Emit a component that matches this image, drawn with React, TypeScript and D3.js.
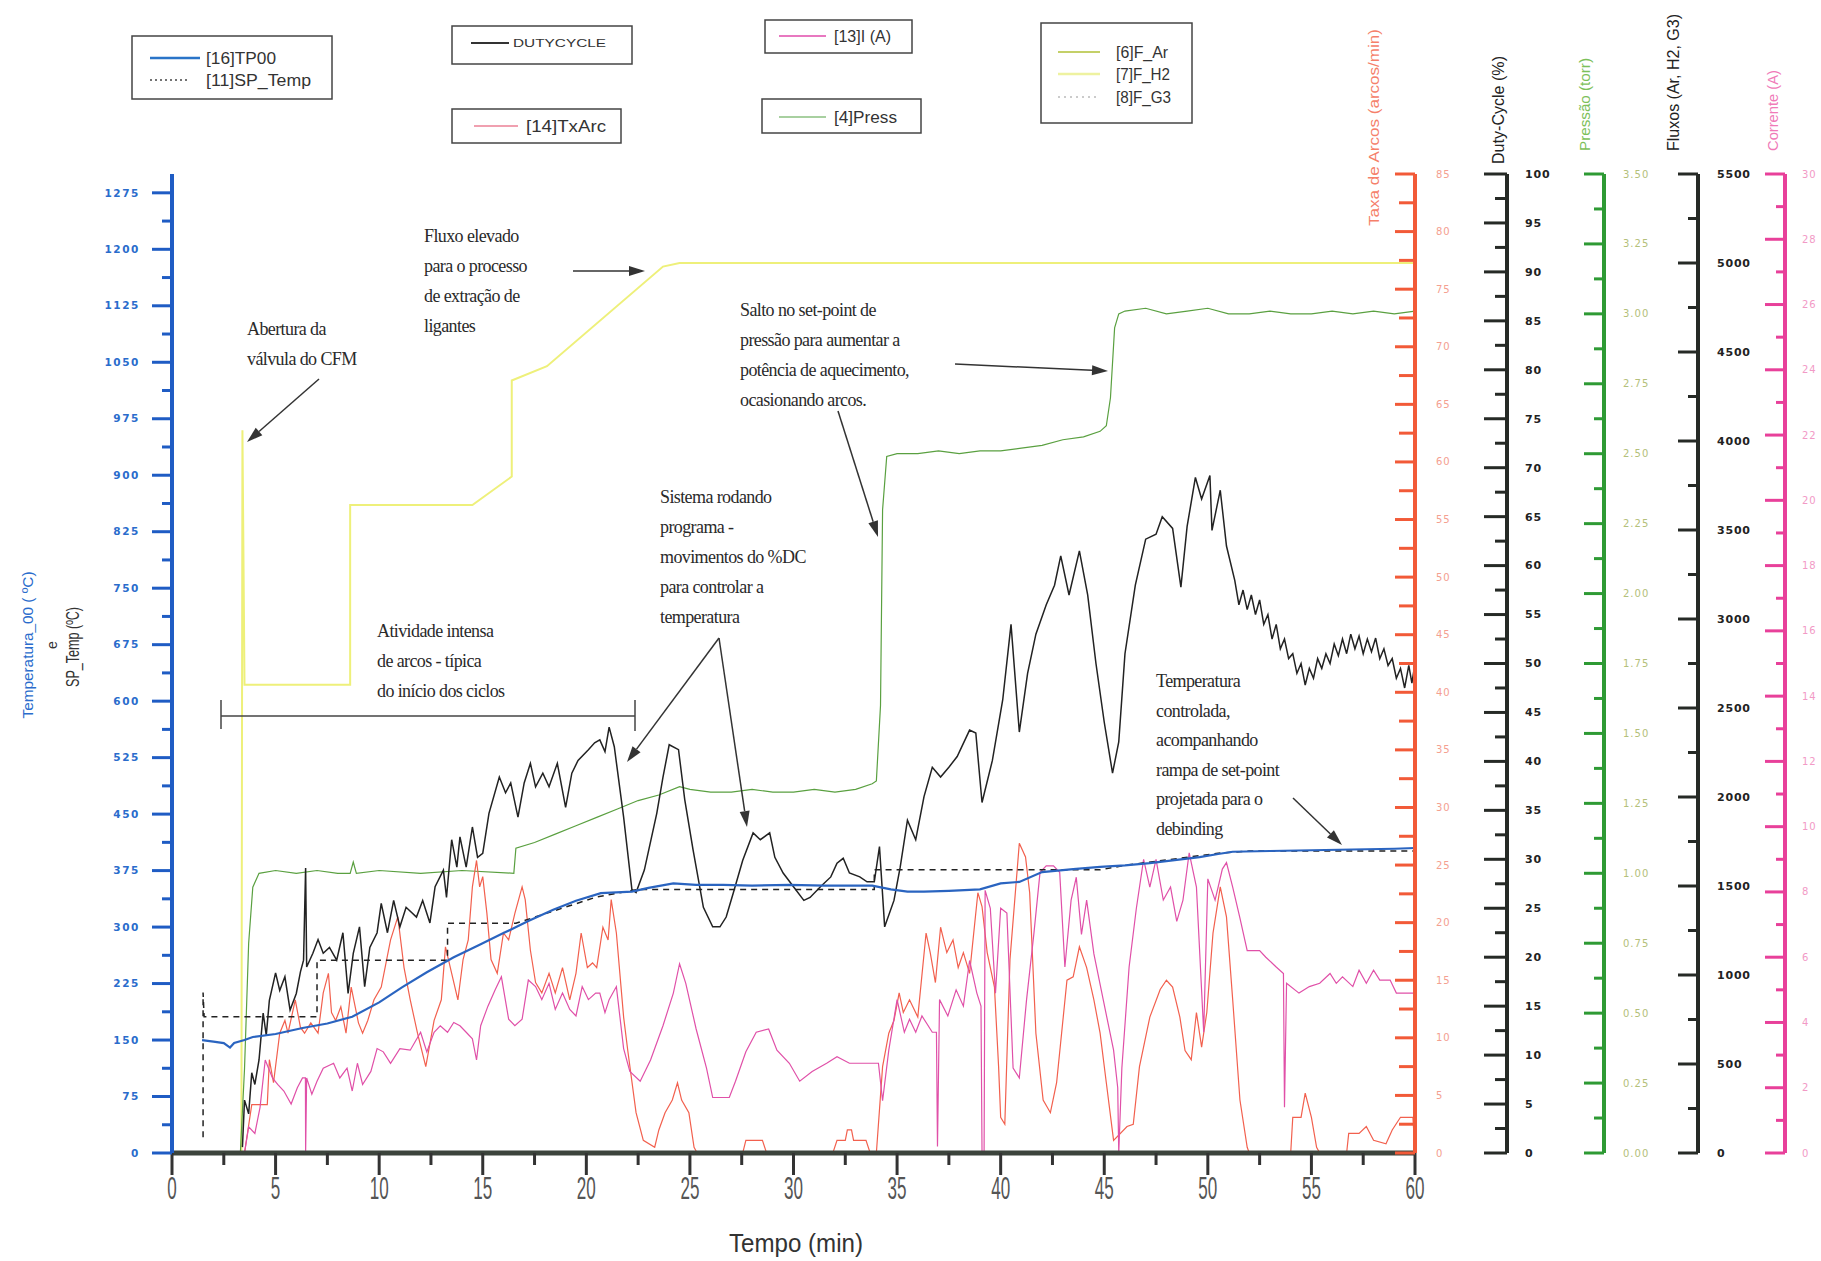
import React from "react";
import * as d3 from "d3";

// ---------- DATA (time in minutes, value in the unit of its own axis) ----------
const tp00: [number, number][] = [
  [1.45,150],[2.0,148],[2.5,146],[2.8,140],[3.0,146],[3.5,150],[3.9,154],[5,158],[6.3,166],[7.5,172],[8.7,181],[10,200],[11.1,220],[12.3,240],[13.6,260],[14.8,276],[16,292],[17.2,308],[18.4,323],[19.5,335],[20.7,345],[22.2,347],[23,352],[24.2,358],[25.3,356],[26.6,356],[28,355],[29.8,356],[31.5,355],[33.8,355],[34.7,350],[35.5,347],[36.3,347],[37.5,348],[39,350],[40,358],[40.9,360],[42,373],[43.5,377],[44.8,380],[46,382],[47.2,385],[48.4,389],[49.6,393],[50.5,397],[51.2,400],[53,401],[55,402],[57,403],[59,404],[60,405]
];
const spTemp: [number, number][] = [
  [1.5,21],[1.5,213],[1.55,181],[7.0,181],[7.0,256],[13.3,256],[13.3,305],[16.6,305],[20.5,340],[22.5,350],[33.9,350],[33.9,376],[44.8,376],[46,382],[50.5,398],[52,401],[60,401]
];
const dutyCycle: [number, number][] = [
  [3.4,0.6],[3.5,5.4],[3.7,4],[3.85,8.2],[4.0,7],[4.2,9.5],[4.4,14.3],[4.55,12],[4.7,15.6],[5.0,18.4],[5.2,16.6],[5.45,18],[5.7,14.6],[6.0,16.3],[6.2,18.5],[6.35,19.7],[6.45,29.1],[6.5,19],[6.8,20.4],[7.05,21.8],[7.3,20.4],[7.6,21],[7.95,19.7],[8.25,22.5],[8.5,16.3],[8.75,20.4],[9.05,23.1],[9.3,17],[9.55,21],[9.9,22.5],[10.1,25.5],[10.4,22.5],[10.7,25.8],[11.0,23.1],[11.3,25.1],[11.8,24.1],[12.1,25.8],[12.45,23.5],[12.7,27.2],[13.1,28.9],[13.25,26.1],[13.5,32],[13.75,29.2],[13.9,32.3],[14.2,29.2],[14.5,33.3],[14.75,30.2],[15.0,30.6],[15.3,34.7],[15.8,38.4],[16.1,36.8],[16.35,37.8],[16.7,34.3],[17.0,37.8],[17.3,39.8],[17.55,37.4],[17.9,38.8],[18.2,37.4],[18.6,39.8],[19.0,35.3],[19.3,38.8],[19.6,40.1],[20.1,41.2],[20.4,41.9],[20.65,42.2],[20.9,41],[21.1,43.5],[21.35,41.5],[21.8,34.3],[22.2,26.9],[22.4,26.6],[22.8,28.9],[23.4,34.7],[23.7,38.4],[24.0,41.7],[24.45,41.2],[24.75,36.1],[25.15,31],[25.65,25.1],[26.1,23.1],[26.45,23.1],[26.75,24.1],[27.1,26.6],[27.55,29.9],[28.05,32.7],[28.4,32],[28.85,32.7],[29.1,30.2],[29.5,28.6],[30.0,27.2],[30.5,25.8],[30.8,26.1],[31.3,27.2],[31.8,28.2],[32.1,29.6],[32.4,30.1],[32.7,28.6],[33.2,28.2],[33.55,27.7],[33.9,27.7],[34.15,31.3],[34.4,23.1],[34.85,25.8],[35.15,29.2],[35.5,34],[35.9,32],[36.3,36.4],[36.7,39.4],[37.1,38.4],[37.5,39.4],[37.9,40.5],[38.5,43.2],[38.8,42.9],[39.1,35.8],[39.6,40.1],[40.1,46.3],[40.5,54],[40.9,43],[41.3,49],[41.7,53],[42.2,56],[42.6,58],[42.9,61],[43.3,57],[43.8,61.5],[44.2,57],[44.6,50],[45.0,44],[45.4,38.8],[45.7,42],[46.0,51],[46.5,58],[47.0,62.7],[47.5,63.2],[47.8,65],[48.3,63.8],[48.7,57.8],[49.0,64],[49.4,69],[49.7,66.8],[50.1,69.2],[50.2,63.6],[50.6,67.7],[50.9,62],[51.3,58.5],[51.5,56],[51.7,57.5],[51.9,55.5],[52.1,57],[52.3,55],[52.5,56.5],[52.7,54],[52.9,55],[53.1,52.5],[53.3,54],[53.5,51.5],[53.7,52.5],[53.9,50.5],[54.1,51],[54.3,49],[54.5,50],[54.7,47.8],[54.9,49.5],[55.1,48.5],[55.3,50.5],[55.5,49.5],[55.7,51],[55.9,50],[56.1,52],[56.3,50.8],[56.5,52.5],[56.7,51],[56.9,53],[57.1,51.5],[57.3,52.8],[57.5,51],[57.7,52.5],[57.9,51.2],[58.1,52.6],[58.3,50.5],[58.5,51.5],[58.7,49.8],[58.9,50.5],[59.1,48.5],[59.3,49.5],[59.5,47.5],[59.7,49.8],[59.85,48],[60,50]
];
const txArc: [number, number][] = [
  [3.3,0],[3.5,0],[3.85,4.2],[4.6,4.2],[4.7,8.1],[4.9,6.1],[5.2,10.4],[5.45,11.5],[5.6,10.4],[5.95,13.3],[6.2,10.9],[6.4,10.4],[6.7,11.3],[7.05,10.4],[7.3,13.9],[7.55,15.6],[7.7,12.2],[7.9,11.5],[8.15,12.7],[8.4,10.4],[8.65,14.4],[9.0,11.3],[9.2,10.4],[9.45,11.5],[9.75,13.3],[10.1,14.4],[10.55,18.5],[10.9,20.5],[11.2,16.1],[11.5,13.3],[11.85,10.4],[12.25,7.5],[12.65,11.5],[13.0,13.3],[13.2,17.9],[13.5,15.6],[13.8,13.3],[14.05,16.8],[14.3,18.5],[14.5,23.1],[14.7,25.4],[14.85,23.1],[15.0,24],[15.2,20.8],[15.4,16.8],[15.7,15.6],[16.0,19.1],[16.25,18.5],[16.55,20.8],[16.9,23.1],[17.05,22],[17.3,17.6],[17.55,14.8],[17.85,13.9],[18.2,15.6],[18.5,13.9],[18.85,16.1],[19.2,13.3],[19.5,15.6],[19.75,19.1],[20.05,16.1],[20.3,16.5],[20.5,16.1],[20.8,19.6],[21.05,18.5],[21.2,22],[21.45,19.1],[21.8,11.8],[22.0,8.9],[22.4,3.5],[22.75,1.1],[23.3,0.5],[23.5,2.0],[23.8,3.5],[24.15,4.6],[24.4,6.1],[24.6,4.6],[24.95,3.5],[25.2,0.5],[25.35,0],[27.55,0],[27.7,1.1],[28.5,1.1],[28.7,0],[31.9,0],[32.1,1.1],[32.5,1.1],[32.6,2.0],[32.8,2.0],[32.9,1.1],[33.5,1.1],[33.7,0],[34.0,0],[34.3,7.5],[34.6,10.4],[34.85,11.5],[35.1,13.9],[35.3,12.2],[35.6,13.3],[36.0,11.8],[36.4,19.1],[36.6,17.4],[36.85,14.8],[37.1,19.6],[37.4,17.4],[37.7,18.5],[37.95,16.1],[38.2,17.4],[38.5,15.6],[38.9,22.6],[39.1,21.4],[39.35,17.4],[39.7,14.4],[39.9,7.5],[40.0,3.1],[40.2,2.5],[40.45,16.8],[40.9,26.9],[41.2,25.7],[41.4,22.6],[41.7,10.4],[42.05,4.6],[42.4,3.5],[42.7,6.1],[43.2,15],[43.5,15.3],[43.8,17.9],[44.15,16.1],[44.5,13.3],[44.8,10.4],[45.1,6.1],[45.45,1.1],[46.1,2.3],[46.4,2.5],[46.7,7.5],[47.2,11.8],[47.7,14.2],[48.0,15],[48.3,14.4],[48.65,11.8],[48.9,8.9],[49.2,8.1],[49.45,12.2],[49.7,9.2],[49.95,12.2],[50.25,19.1],[50.6,23.1],[50.9,20.5],[51.2,13.3],[51.55,4.6],[51.9,0.5],[52.0,0],[54.0,0],[54.1,3.1],[54.5,3.1],[54.7,5.2],[55.0,3.1],[55.25,0.5],[55.4,0],[56.7,0],[56.8,1.7],[57.3,1.7],[57.65,2.3],[58.0,1.1],[58.6,0.8],[58.9,2.0],[59.3,3.1],[59.9,3.1],[60,0]
];
const corrente: [number, number][] = [
  [3.3,0],[3.5,0],[3.7,0.8],[4.0,0.6],[4.25,1.4],[4.5,2.85],[4.85,2.3],[5.1,2.1],[5.4,1.9],[5.75,1.5],[6.05,2.0],[6.3,2.3],[6.44,2.3],[6.45,0],[6.5,2.3],[6.75,1.8],[7.0,2.2],[7.3,2.6],[7.8,2.75],[8.1,2.3],[8.45,2.6],[8.7,1.9],[8.95,2.75],[9.2,2.1],[9.6,2.5],[9.9,3.2],[10.2,3.1],[10.55,2.75],[11.0,3.2],[11.5,3.15],[12.0,3.7],[12.3,3.1],[12.65,3.7],[12.95,3.9],[13.3,3.7],[13.6,4.0],[13.9,3.9],[14.2,3.7],[14.5,3.5],[14.7,2.85],[14.9,3.9],[15.25,4.5],[15.6,5.0],[15.9,5.4],[16.25,4.1],[16.55,3.9],[16.9,4.1],[17.2,5.3],[17.55,5.1],[17.85,4.7],[18.2,5.2],[18.5,4.4],[18.85,4.9],[19.2,4.4],[19.5,4.2],[19.8,5.1],[20.1,4.7],[20.45,4.9],[20.65,4.9],[20.9,4.3],[21.1,4.7],[21.45,5.1],[21.8,3.2],[22.1,2.5],[22.6,2.2],[23.1,2.85],[23.7,3.9],[24.2,4.9],[24.5,5.8],[24.8,5.2],[25.3,3.8],[25.8,2.6],[26.1,1.7],[26.9,1.7],[27.2,2.2],[27.7,3.1],[28.2,3.7],[28.8,3.8],[29.2,3.15],[29.8,2.75],[30.3,2.2],[30.9,2.5],[31.6,2.75],[32.1,2.95],[32.7,2.75],[34.1,2.75],[34.3,1.6],[34.6,3.15],[35.0,4.7],[35.35,3.7],[35.6,4.1],[35.9,3.7],[36.2,4.2],[36.7,3.7],[36.9,3.7],[36.95,0.2],[37.05,4.7],[37.45,4.2],[37.85,5.0],[38.2,4.5],[38.5,5.9],[38.85,4.9],[39.05,4.5],[39.1,0],[39.2,0],[39.25,8.05],[39.5,7.5],[39.75,4.9],[40.0,7.5],[40.3,7.35],[40.6,2.6],[40.9,2.3],[41.25,4.7],[41.6,6.7],[41.9,8.6],[42.2,8.8],[42.55,8.8],[42.85,8.6],[43.1,5.7],[43.4,7.75],[43.65,8.45],[43.9,6.7],[44.15,7.75],[44.5,6.1],[44.95,4.7],[45.45,3.15],[45.65,2],[45.7,0],[45.85,2.6],[46.2,5.7],[46.55,7.5],[46.9,9.0],[47.2,8.15],[47.5,9.0],[47.85,7.75],[48.2,8.15],[48.5,7.1],[48.8,7.75],[49.1,9.2],[49.45,8.15],[49.8,3.7],[50.0,8.4],[50.35,7.75],[50.7,8.7],[50.9,8.9],[51.2,8.15],[51.55,7.2],[51.9,6.2],[52.5,6.2],[52.8,6.0],[53.3,5.7],[53.65,5.5],[53.7,1.4],[53.8,5.2],[54.4,4.9],[54.9,5.1],[55.4,5.2],[55.9,5.5],[56.2,5.2],[56.5,5.4],[57.0,5.1],[57.3,5.6],[57.65,5.2],[58.0,5.6],[58.3,5.3],[58.8,5.3],[59.1,4.9],[60,4.9]
];
const pressao: [number, number][] = [
  [3.3,0],[3.5,0.3],[3.7,0.75],[3.9,0.95],[4.2,1.0],[5,1.01],[6,1.0],[7,1.01],[8,1.0],[8.6,1.0],[8.75,1.04],[8.9,1.0],[10,1.01],[12,1.0],[14,1.01],[16.5,1.0],[16.6,1.09],[17.5,1.11],[18.5,1.14],[19.5,1.17],[20.5,1.2],[21.5,1.23],[22.5,1.26],[23.5,1.28],[24.5,1.31],[25,1.3],[26,1.29],[27,1.29],[28,1.3],[29,1.29],[30,1.29],[31,1.3],[32,1.29],[33,1.3],[33.8,1.32],[34.0,1.33],[34.2,1.6],[34.3,2.3],[34.5,2.49],[35,2.5],[36,2.5],[37,2.51],[38,2.5],[39,2.51],[40,2.51],[41,2.52],[42,2.53],[43,2.55],[44,2.56],[44.8,2.58],[45.1,2.6],[45.3,2.7],[45.5,2.95],[45.7,3.0],[46,3.01],[47,3.02],[48,3.0],[49,3.01],[50,3.02],[51,3.0],[52,3.0],[53,3.01],[54,3.0],[55,3.0],[56,3.01],[57,3.0],[58,3.01],[59,3.0],[60,3.01]
];
const fluxoH2: [number, number][] = [
  [3.35,0],[3.4,4060],[3.5,2630],[8.6,2630],[8.6,3640],[14.5,3640],[16.4,3800],[16.4,4340],[18.1,4420],[23.7,4980],[24.5,5000],[60,5000]
];
const xTicksMajor = [0,5,10,15,20,25,30,35,40,45,50,55,60];
const tempTicks = [0,75,150,225,300,375,450,525,600,675,750,825,900,975,1050,1125,1200,1275];
const arcTicks = [0,5,10,15,20,25,30,35,40,45,50,55,60,65,70,75,80,85];
const dutyTicks = [0,5,10,15,20,25,30,35,40,45,50,55,60,65,70,75,80,85,90,95,100];
const pressTicks = [0,0.25,0.5,0.75,1,1.25,1.5,1.75,2,2.25,2.5,2.75,3,3.25,3.5];
const fluxTicks = [0,500,1000,1500,2000,2500,3000,3500,4000,4500,5000,5500];
const currTicks = [0,2,4,6,8,10,12,14,16,18,20,22,24,26,28,30];

// ---------- LAYOUT ----------
const W = 1821, H = 1261;
const X0 = 172, X1 = 1415, YB = 1153, YT = 174;
const x = d3.scaleLinear().domain([0, 60]).range([X0, X1]);
const yTemp = d3.scaleLinear().domain([0, 1300]).range([YB, YT]);
const yArc = d3.scaleLinear().domain([0, 85]).range([YB, YT]);
const yDuty = d3.scaleLinear().domain([0, 100]).range([YB, YT]);
const yPress = d3.scaleLinear().domain([0, 3.5]).range([YB, YT]);
const yFlux = d3.scaleLinear().domain([0, 5500]).range([YB, YT]);
const yCurr = d3.scaleLinear().domain([0, 30]).range([YB, YT]);

const mk = (ys: d3.ScaleLinear<number, number>) =>
  d3.line<[number, number]>().x(d => x(d[0])).y(d => ys(d[1]));

const SERIF = "'Liberation Serif', 'DejaVu Serif', serif";
const SANS = "'Liberation Sans', Arial, sans-serif";
const DSANS = "'DejaVu Sans', sans-serif";

function mids(t: number[]) {
  const out: number[] = [];
  for (let i = 0; i < t.length - 1; i++) out.push((t[i] + t[i + 1]) / 2);
  return out;
}

type AxisProps = {
  ax: number; scale: d3.ScaleLinear<number, number>; ticks: number[];
  color: string; labelColor: string; majorLen: number; minorLen: number;
  fmt: (v: number) => string; labelX: number; fontSize: number; weight?: number;
  anchor?: string; spacing?: number; width?: number;
};
function VAxis(p: AxisProps) {
  const minor = mids(p.ticks);
  return (
    <g>
      <line x1={p.ax} x2={p.ax} y1={YT} y2={YB} stroke={p.color} strokeWidth={p.width ?? 4} />
      {p.ticks.map(t => (
        <line key={"M" + t} x1={p.ax - p.majorLen} x2={p.ax} y1={p.scale(t)} y2={p.scale(t)} stroke={p.color} strokeWidth={3} />
      ))}
      {minor.map(t => (
        <line key={"m" + t} x1={p.ax - p.minorLen} x2={p.ax} y1={p.scale(t)} y2={p.scale(t)} stroke={p.color} strokeWidth={3} />
      ))}
      {p.ticks.map(t => (
        <text key={"L" + t} x={p.labelX} y={p.scale(t)} dy="0.35em" fontSize={p.fontSize}
          fontFamily={DSANS} fill={p.labelColor} fontWeight={p.weight ?? 400}
          textAnchor={p.anchor ?? "start"} letterSpacing={p.spacing ?? 0}>{p.fmt(t)}</text>
      ))}
    </g>
  );
}

function Arrow({ x1, y1, x2, y2 }: { x1: number; y1: number; x2: number; y2: number }) {
  const a = Math.atan2(y2 - y1, x2 - x1);
  const L = 16, w = 5;
  const bx = x2 - L * Math.cos(a), by = y2 - L * Math.sin(a);
  const p1 = [bx + w * Math.sin(a), by - w * Math.cos(a)];
  const p2 = [bx - w * Math.sin(a), by + w * Math.cos(a)];
  return (
    <g>
      <line x1={x1} y1={y1} x2={bx} y2={by} stroke="#333" strokeWidth={1.5} />
      <polygon points={`${x2},${y2} ${p1[0]},${p1[1]} ${p2[0]},${p2[1]}`} fill="#333" />
    </g>
  );
}

function Note({ x0, y0, lines, step = 30 }: { x0: number; y0: number; lines: string[]; step?: number }) {
  return (
    <g fontFamily={SERIF} fontSize={18} fill="#2a2a2a" letterSpacing={-0.6}>
      {lines.map((l, i) => (
        <text key={i} x={x0} y={y0 + i * step}>{l}</text>
      ))}
    </g>
  );
}

function LegendText({ x0, y0, s, len, size = 16, spacing = 0 }: { x0: number; y0: number; s: string; len: number; size?: number; spacing?: number }) {
  return (
    <text x={x0} y={y0} dy="0.35em" fontFamily={SANS} fontSize={size} fill="#333"
      textLength={len} lengthAdjust="spacingAndGlyphs" letterSpacing={spacing}>{s}</text>
  );
}

function RotTitle({ x0, yBottom, s, len, color, size }: { x0: number; yBottom: number; s: string; len: number; color: string; size: number }) {
  return (
    <text transform={`translate(${x0},${yBottom}) rotate(-90)`} fontFamily={SANS} fontSize={size} fill={color}
      textLength={len} lengthAdjust="spacingAndGlyphs" dy="0.35em">{s}</text>
  );
}

export default function App() {
  const xMinor = mids(xTicksMajor);
  return (
    <svg width={W} height={H} viewBox={`0 0 ${W} ${H}`}
      style={{ position: "absolute", left: 0, top: 0, background: "#fff", display: "block" }}>
      <rect x={0} y={0} width={W} height={H} fill="#fff" />

      {/* ---------- series ---------- */}
      <path d={mk(yFlux)(fluxoH2) || ""} fill="none" stroke="#eef07a" strokeWidth={2} />
      <path d={mk(yPress)(pressao) || ""} fill="none" stroke="#5aa040" strokeWidth={1.2} />
      <path d={mk(yArc)(txArc) || ""} fill="none" stroke="#f2604e" strokeWidth={1.2} />
      <path d={mk(yCurr)(corrente) || ""} fill="none" stroke="#e050a8" strokeWidth={1.2} />
      <path d={mk(yDuty)(dutyCycle) || ""} fill="none" stroke="#222" strokeWidth={1.5} />
      <path d={mk(yTemp)(spTemp) || ""} fill="none" stroke="#222" strokeWidth={1.5} strokeDasharray="6,5" />
      <path d={mk(yTemp)(tp00) || ""} fill="none" stroke="#2a64c0" strokeWidth={2.2} />

      {/* ---------- x axis ---------- */}
      <line x1={X0} x2={X1} y1={YB} y2={YB} stroke="#3c443c" strokeWidth={5} />
      {xTicksMajor.map(t => (
        <line key={"xt" + t} x1={x(t)} x2={x(t)} y1={YB} y2={YB + 22} stroke="#333" strokeWidth={3} />
      ))}
      {xMinor.map(t => (
        <line key={"xm" + t} x1={x(t)} x2={x(t)} y1={YB} y2={YB + 12} stroke="#333" strokeWidth={3} />
      ))}
      {xTicksMajor.map(t => (
        <text key={"xl" + t} transform={`translate(${x(t)},${YB + 46}) scale(0.55,1)`} textAnchor="middle"
          fontFamily={SANS} fontSize={31} fill="#555">{t}</text>
      ))}
      <text x={796} y={1252} textAnchor="middle" fontFamily={SANS} fontSize={25} fill="#333"
        textLength={134} lengthAdjust="spacingAndGlyphs">Tempo (min)</text>

      {/* ---------- left temp axis ---------- */}
      <VAxis ax={X0} scale={yTemp} ticks={tempTicks} color="#1f5cc4" labelColor="#2a6ccc" majorLen={20} minorLen={10}
        fmt={v => String(v)} labelX={140} fontSize={10.5} anchor="end" spacing={1.6} weight={600} />
      <text transform="translate(28,645) rotate(-90)" textAnchor="middle" fontFamily={SANS} fontSize={15}
        fill="#2a6ccc" textLength={147} lengthAdjust="spacingAndGlyphs" dy="0.35em">Temperatura_00 ( ºC)</text>
      <text transform="translate(52,645) rotate(-90)" textAnchor="middle" fontFamily={SANS} fontSize={14}
        fill="#333" dy="0.35em">e</text>
      <text transform="translate(72,647) rotate(-90)" textAnchor="middle" fontFamily={SANS} fontSize={19}
        fill="#333" textLength={80} lengthAdjust="spacingAndGlyphs" dy="0.35em">SP_Temp (ºC)</text>

      {/* ---------- right axes ---------- */}
      <VAxis ax={1415} scale={yArc} ticks={arcTicks} color="#f25a38" labelColor="#f4a090" majorLen={20} minorLen={16}
        fmt={v => String(v)} labelX={1436} fontSize={10} spacing={1} width={4} />
      <VAxis ax={1507} scale={yDuty} ticks={dutyTicks} color="#262a26" labelColor="#222" majorLen={23} minorLen={12}
        fmt={v => String(v)} labelX={1525} fontSize={11} weight={600} spacing={0.8} />
      <VAxis ax={1604} scale={yPress} ticks={pressTicks} color="#2e9a34" labelColor="#b4c07a" majorLen={20} minorLen={10}
        fmt={v => v.toFixed(2)} labelX={1623} fontSize={10} spacing={1} />
      <VAxis ax={1698} scale={yFlux} ticks={fluxTicks} color="#262a26" labelColor="#222" majorLen={20} minorLen={10}
        fmt={v => String(v)} labelX={1717} fontSize={11} weight={600} spacing={0.8} />
      <VAxis ax={1785} scale={yCurr} ticks={currTicks} color="#e8409a" labelColor="#f29ac6" majorLen={20} minorLen={9}
        fmt={v => String(v)} labelX={1802} fontSize={10} spacing={1} />

      <RotTitle x0={1374} yBottom={226} s="Taxa de Arcos (arcos/min)" len={197} color="#f5806a" size={14} />
      <RotTitle x0={1498} yBottom={164} s="Duty-Cycle (%)" len={108} color="#222" size={16} />
      <RotTitle x0={1585} yBottom={151} s="Pressão (torr)" len={93} color="#7cc05a" size={14} />
      <RotTitle x0={1673} yBottom={151} s="Fluxos (Ar, H2, G3)" len={137} color="#222" size={16} />
      <RotTitle x0={1773} yBottom={151} s="Corrente (A)" len={81} color="#f07ab8" size={14} />

      {/* ---------- legends ---------- */}
      <g fill="#fff" stroke="#444" strokeWidth={1.5}>
        <rect x={132} y={36} width={200} height={63} />
        <rect x={452} y={26} width={180} height={38} />
        <rect x={452} y={109} width={169} height={34} />
        <rect x={765} y={20} width={147} height={33} />
        <rect x={762} y={99} width={159} height={34} />
        <rect x={1041} y={23} width={151} height={100} />
      </g>
      <line x1={150} x2={200} y1={58} y2={58} stroke="#2a74c8" strokeWidth={2.5} />
      <LegendText x0={206} y0={58} s="[16]TP00" len={70} />
      <line x1={150} x2={189} y1={80} y2={80} stroke="#444" strokeWidth={1.5} strokeDasharray="2,3" />
      <LegendText x0={206} y0={80} s="[11]SP_Temp" len={105} />

      <line x1={471} x2={509} y1={43} y2={43} stroke="#333" strokeWidth={2} />
      <LegendText x0={513} y0={43} s="DUTYCYCLE" len={93} size={11} />
      <line x1={474} x2={518} y1={126} y2={126} stroke="#f0a0b0" strokeWidth={2} />
      <LegendText x0={526} y0={126} s="[14]TxArc" len={80} />
      <line x1={779} x2={826} y1={36} y2={36} stroke="#e878c0" strokeWidth={2} />
      <LegendText x0={834} y0={36} s="[13]I (A)" len={57} />
      <line x1={779} x2={826} y1={117} y2={117} stroke="#a8d0a0" strokeWidth={2} />
      <LegendText x0={834} y0={117} s="[4]Press" len={63} />
      <line x1={1058} x2={1100} y1={52} y2={52} stroke="#c4d068" strokeWidth={2} />
      <LegendText x0={1116} y0={52} s="[6]F_Ar" len={52} />
      <line x1={1058} x2={1100} y1={74} y2={74} stroke="#eef2a0" strokeWidth={2.5} />
      <LegendText x0={1116} y0={74} s="[7]F_H2" len={54} />
      <line x1={1058} x2={1100} y1={97} y2={97} stroke="#bbb" strokeWidth={1.5} strokeDasharray="2,4" />
      <LegendText x0={1116} y0={97} s="[8]F_G3" len={55} />

      {/* ---------- annotations ---------- */}
      <Note x0={424} y0={242} lines={["Fluxo elevado", "para o processo", "de extração de", "ligantes"]} />
      <Arrow x1={573} y1={271} x2={645} y2={271} />
      <Note x0={247} y0={335} lines={["Abertura da", "válvula do CFM"]} />
      <Arrow x1={319} y1={379} x2={247} y2={442} />
      <Note x0={740} y0={316} lines={["Salto no set-point de", "pressão para aumentar a", "potência de aquecimento,", "ocasionando arcos."]} />
      <Arrow x1={955} y1={364} x2={1108} y2={371} />
      <Arrow x1={838} y1={411} x2={878} y2={537} />
      <Note x0={660} y0={503} lines={["Sistema rodando", "programa -", "movimentos do %DC", "para controlar a", "temperatura"]} />
      <Arrow x1={719} y1={638} x2={627} y2={762} />
      <Arrow x1={719} y1={638} x2={747} y2={827} />
      <Note x0={377} y0={637} lines={["Atividade intensa", "de arcos - típica", "do início dos ciclos"]} />
      <g stroke="#444" strokeWidth={1.5}>
        <line x1={221} x2={635} y1={716} y2={716} />
        <line x1={221} x2={221} y1={700} y2={729} />
        <line x1={635} x2={635} y1={700} y2={731} />
      </g>
      <Note x0={1156} y0={687} lines={["Temperatura", "controlada,", "acompanhando", "rampa de set-point", "projetada para o", "debinding"]} step={29.6} />
      <Arrow x1={1293} y1={798} x2={1342} y2={845} />
    </svg>
  );
}
